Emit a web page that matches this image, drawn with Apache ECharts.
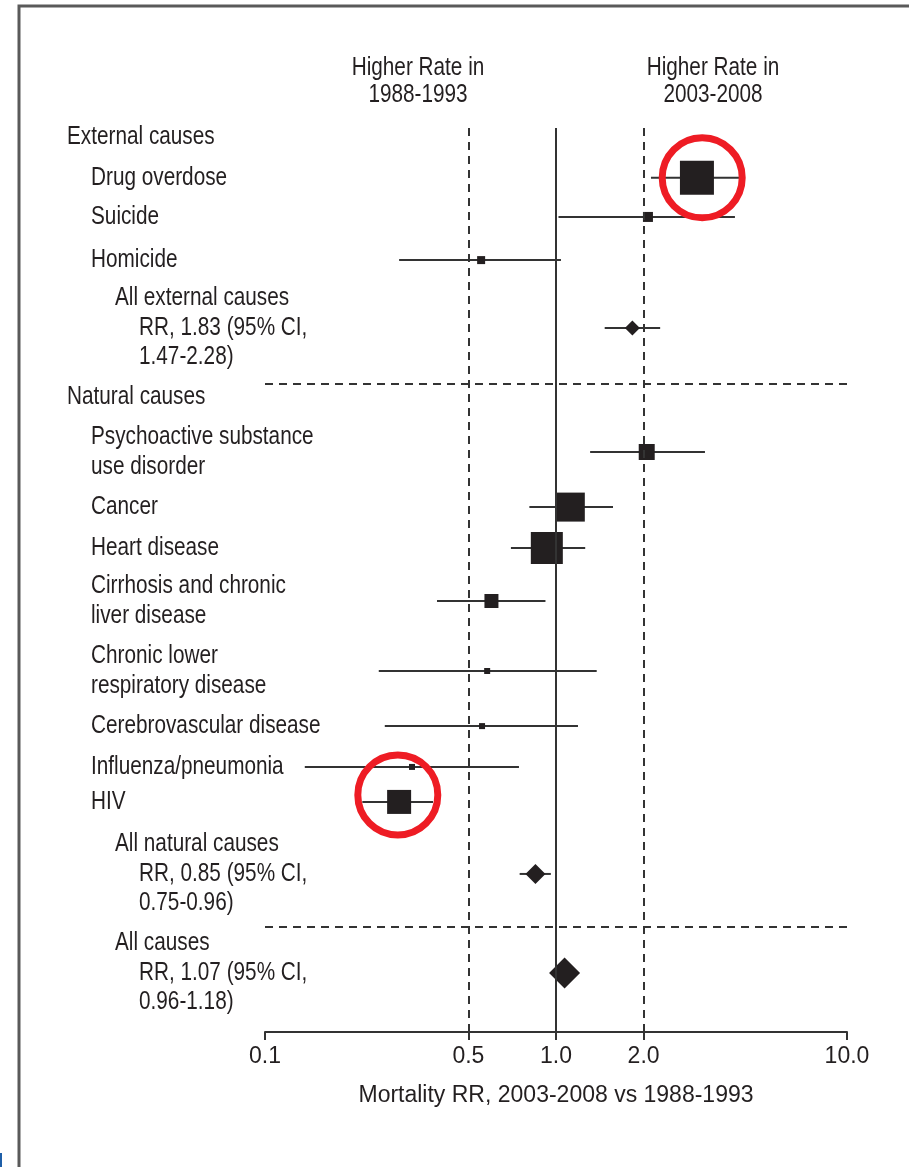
<!DOCTYPE html>
<html>
<head>
<meta charset="utf-8">
<script src="https://cdn.jsdelivr.net/npm/echarts@6/dist/echarts.min.js"></script>
<style>
  html, body { margin: 0; padding: 0; background: #fff; }
  #chart { width: 909px; height: 1167px; }
</style>
</head>
<body>
<div id="chart"></div>
<script>
// row labels (one entry per row, lines of text) and indent level
const rowLabels = [
  ['External causes'],
  ['Drug overdose'],
  ['Suicide'],
  ['Homicide'],
  ['All external causes', 'RR, 1.83 (95% CI,', '1.47-2.28)'],
  ['Natural causes'],
  ['Psychoactive substance', 'use disorder'],
  ['Cancer'],
  ['Heart disease'],
  ['Cirrhosis and chronic', 'liver disease'],
  ['Chronic lower', 'respiratory disease'],
  ['Cerebrovascular disease'],
  ['Influenza/pneumonia'],
  ['HIV'],
  ['All natural causes', 'RR, 0.85 (95% CI,', '0.75-0.96)'],
  ['All causes', 'RR, 1.07 (95% CI,', '0.96-1.18)']
];
const rowLevel = [0, 1, 1, 1, 2, 0, 1, 1, 1, 1, 1, 1, 1, 1, 2, 2];
// row position, in text lines from the top of the plot
const rowY = [0.31, 1.71, 3.05, 4.53, 6.86, 9.22, 11.11, 13.0, 14.4, 16.22, 18.62, 20.51, 21.91, 23.11, 25.58, 28.98];
// rate ratio and 95% CI
const rr     = [null, 3.05, 2.07, 0.553, 1.83, null, 2.05, 1.12, 0.93, 0.60, 0.58, 0.557, 0.32, 0.289, 0.85, 1.07];
const ciLow  = [null, 2.12, 1.02, 0.289, 1.47, null, 1.31, 0.81, 0.70, 0.39, 0.246, 0.258, 0.137, 0.216, 0.75, 0.96];
const ciHigh = [null, 4.29, 4.12, 1.04, 2.28, null, 3.25, 1.57, 1.26, 0.92, 1.38, 1.19, 0.746, 0.378, 0.96, 1.18];
// marker weight (square side / diamond width)
const markSize = [null, 34, 10, 8, 15, null, 16, 29, 32, 14, 6, 6, 6, 24, 20, 31];
const pooledRows = [4, 14, 15];
const separatorY = [8.78, 27.4];
const refLines = [0.5, 1, 2];
const tickValues = [0.1, 0.5, 1, 2, 10];
// red annotation circles
const circleX = [3.18, 0.286];
const circleY = [1.71, 22.87];

const FONT = '"Liberation Sans", Arial, sans-serif';
const INK = '#231f20';
const NARROW = 0.83; // condensed look for the label column

const chart = echarts.init(document.getElementById('chart'));

const ciData = [], markData = [];
rr.forEach((v, i) => {
  if (v == null) return;
  ciData.push([ciLow[i], ciHigh[i], rowY[i]]);
  const pooled = pooledRows.indexOf(i) >= 0;
  markData.push({
    value: [v, rowY[i]],
    symbol: pooled ? 'diamond' : 'rect',
    symbolSize: markSize[i]
  });
});

chart.setOption({
  animation: false,
  grid: { left: 265, right: 62, top: 128, bottom: 135 },
  xAxis: {
    type: 'log',
    logBase: 10,
    min: 0.1,
    max: 10,
    position: 'bottom',
    name: 'Mortality RR, 2003-2008 vs 1988-1993',
    nameLocation: 'middle',
    nameGap: 52,
    nameTextStyle: { fontFamily: FONT, fontSize: 23, color: INK },
    axisLine: { onZero: false, lineStyle: { color: '#333', width: 2 } },
    axisTick: { customValues: tickValues, length: 8, lineStyle: { color: '#333', width: 2 } },
    axisLabel: {
      customValues: tickValues,
      formatter: v => Number(v).toFixed(1),
      fontFamily: FONT, fontSize: 23, color: INK, margin: 13
    },
    splitLine: { show: false },
    minorTick: { show: false }
  },
  yAxis: {
    type: 'value',
    inverse: true,
    min: 0,
    max: 31,
    show: false
  },
  series: [
    {
      type: 'custom',
      silent: true,
      z: 2,
      renderItem: (params, api) => {
        const a = api.coord([api.value(0), api.value(2)]);
        const b = api.coord([api.value(1), api.value(2)]);
        return {
          type: 'line',
          shape: { x1: a[0], y1: a[1], x2: b[0], y2: b[1] },
          style: { stroke: '#333', lineWidth: 2 }
        };
      },
      encode: { x: [0, 1], y: 2 },
      data: ciData,
      markLine: {
        silent: true,
        symbol: 'none',
        label: { show: false },
        data: refLines.map(v => ({
          xAxis: v,
          lineStyle: { color: '#333', width: 2, type: v === 1 ? 'solid' : [8, 6] }
        })).concat(separatorY.map(v => ({
          yAxis: v,
          lineStyle: { color: '#333', width: 2, type: [8, 6] }
        })))
      }
    },
    {
      type: 'scatter',
      silent: true,
      z: 3,
      itemStyle: { color: INK, opacity: 1 },
      data: markData
    },
    {
      type: 'scatter',
      silent: true,
      z: 4,
      symbol: 'circle',
      symbolSize: 80,
      itemStyle: { color: 'rgba(0,0,0,0)', borderColor: '#ee1c24', borderWidth: 7, opacity: 1 },
      data: circleX.map((x, k) => [x, circleY[k]])
    }
  ]
});

// text column and headers
const texts = [];
rowLabels.forEach((lines, i) => {
  const cy = chart.convertToPixel({ yAxisIndex: 0 }, rowY[i]);
  const n = lines.length;
  lines.forEach((t, j) => {
    const level = rowLevel[i] + (j > 0 && n === 3 ? 1 : 0);
    texts.push({
      type: 'text',
      x: 67 + 24 * level,
      y: cy + (j - (n - 1) / 2) * 29.5,
      scaleX: NARROW,
      style: { text: t, fontFamily: FONT, fontSize: 25, fill: INK, verticalAlign: 'middle' }
    });
  });
});
[['Higher Rate in', '1988-1993', 418], ['Higher Rate in', '2003-2008', 713]].forEach(h => {
  texts.push({
    type: 'text', x: h[2], y: 81.5,
    scaleX: NARROW,
    style: { text: h[0] + '\n' + h[1], fontFamily: FONT, fontSize: 25, lineHeight: 27, fill: INK, align: 'center', verticalAlign: 'middle' }
  });
});

chart.setOption({
  graphic: [
    { type: 'rect', shape: { x: 19, y: 6, width: 1000, height: 1300 }, style: { fill: 'none', stroke: '#5a5a5a', lineWidth: 3 } },
    { type: 'rect', shape: { x: 0, y: 1153, width: 2, height: 14 }, style: { fill: '#1f5fa8' } }
  ].concat(texts)
});
</script>
</body>
</html>
